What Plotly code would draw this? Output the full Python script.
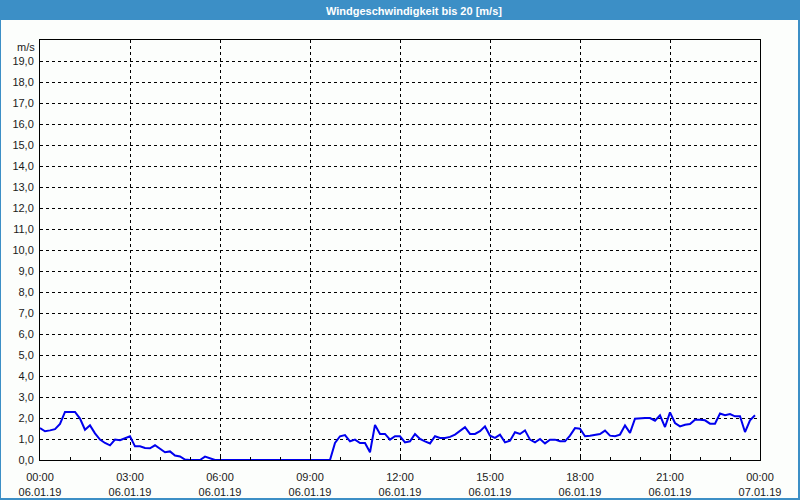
import pandas as pd
import plotly.graph_objects as go

title_text = "Windgeschwindigkeit bis 20 [m/s]"
unit_label = "m/s"

start_time = "2019-01-06 00:00"
end_time = "2019-01-07 00:00"
sample_interval = "10min"

wind_speed = [
    1.52, 1.37, 1.41, 1.47, 1.72, 2.29, 2.29, 2.29, 1.97, 1.44, 1.65, 1.27,
    0.97, 0.81, 0.70, 0.97, 0.94, 1.02, 1.13, 0.65, 0.65, 0.57, 0.56, 0.70,
    0.52, 0.37, 0.41, 0.21, 0.17, 0.02, 0.00, 0.00, 0.00, 0.16, 0.08, 0.00,
    0.00, 0.00, 0.00, 0.00, 0.00, 0.00, 0.00, 0.00, 0.00, 0.00, 0.00, 0.00,
    0.00, 0.00, 0.00, 0.00, 0.00, 0.00, 0.00, 0.00, 0.00, 0.00, 0.00, 0.81,
    1.13, 1.19, 0.89, 0.97, 0.81, 0.81, 0.37, 1.67, 1.24, 1.24, 0.97, 1.13,
    1.13, 0.84, 0.89, 1.24, 1.00, 0.89, 0.79, 1.13, 1.05, 1.05, 1.10, 1.21,
    1.37, 1.56, 1.24, 1.24, 1.37, 1.60, 1.16, 1.05, 1.21, 0.84, 0.92, 1.32,
    1.24, 1.41, 0.97, 0.84, 1.00, 0.79, 0.97, 0.97, 0.89, 0.89, 1.16, 1.52,
    1.49, 1.13, 1.16, 1.21, 1.24, 1.40, 1.16, 1.13, 1.21, 1.65, 1.29, 1.97,
    2.00, 2.00, 2.00, 1.87, 2.13, 1.57, 2.27, 1.76, 1.60, 1.68, 1.71, 1.92,
    1.92, 1.89, 1.73, 1.73, 2.21, 2.13, 2.19, 2.08, 2.08, 1.33, 1.89, 2.13,
]

x_tick_times = [
    "2019-01-06 00:00", "2019-01-06 03:00", "2019-01-06 06:00",
    "2019-01-06 09:00", "2019-01-06 12:00", "2019-01-06 15:00",
    "2019-01-06 18:00", "2019-01-06 21:00", "2019-01-07 00:00",
]
x_tick_labels = [
    "00:00<br>06.01.19", "03:00<br>06.01.19", "06:00<br>06.01.19",
    "09:00<br>06.01.19", "12:00<br>06.01.19", "15:00<br>06.01.19",
    "18:00<br>06.01.19", "21:00<br>06.01.19", "00:00<br>07.01.19",
]
y_tick_values = list(range(0, 20))
y_tick_labels = [f"{v},0" for v in y_tick_values]

times = pd.date_range(start_time, periods=len(wind_speed), freq=sample_interval)

W, H = 800, 500
L, R, T, B = 40, 40, 40, 40
PW, PH = W - L - R, H - T - B


def px(xp):
    return (xp - L) / PW


def py(yp):
    return (H - B - yp) / PH


BLUE = "#3c8fc6"
TEXT = "#1a1a1a"
FONT = "Liberation Sans, Arial, sans-serif"

fig = go.Figure()
fig.add_trace(go.Scatter(
    x=times, y=wind_speed, mode="lines",
    line=dict(color="#0000ee", width=2), hoverinfo="skip",
))

fig.update_layout(
    width=W, height=H, autosize=False,
    margin=dict(l=L, r=R, t=T, b=B, pad=0, autoexpand=False),
    paper_bgcolor="#fcfefc", plot_bgcolor="#fcfefc",
    showlegend=False,
    font=dict(family=FONT, size=11, color=TEXT),
    xaxis=dict(
        type="date", range=[start_time, end_time],
        tickvals=x_tick_times, ticktext=x_tick_labels,
        showgrid=True, gridcolor="black", gridwidth=1, griddash="3px,3px",
        showline=True, linecolor="black", linewidth=1, mirror=True,
        ticks="inside", ticklen=3, tickcolor="black",
        minor=dict(dtick=3600000, ticks="inside", ticklen=3,
                   tickcolor="black", showgrid=False),
        ticklabelstandoff=7, zeroline=False, fixedrange=True,
        automargin=False,
    ),
    yaxis=dict(
        range=[0, 20], tickvals=y_tick_values, ticktext=y_tick_labels,
        showgrid=True, gridcolor="black", gridwidth=1, griddash="3px,3px",
        showline=True, linecolor="black", linewidth=1, mirror=True,
        ticks="", ticklabelstandoff=3, zeroline=False, fixedrange=True,
        automargin=False,
    ),
    shapes=[
        dict(type="rect", xref="paper", yref="paper", layer="above",
             x0=px(0), x1=px(W), y0=py(20), y1=py(0),
             fillcolor=BLUE, line=dict(width=0)),
        dict(type="rect", xref="paper", yref="paper", layer="above",
             x0=px(0), x1=px(1), y0=py(H), y1=py(20),
             fillcolor=BLUE, line=dict(width=0)),
        dict(type="rect", xref="paper", yref="paper", layer="above",
             x0=px(W - 2), x1=px(W), y0=py(H), y1=py(20),
             fillcolor=BLUE, line=dict(width=0)),
        dict(type="rect", xref="paper", yref="paper", layer="above",
             x0=px(0), x1=px(W), y0=py(H), y1=py(H - 2),
             fillcolor=BLUE, line=dict(width=0)),
    ],
    annotations=[
        dict(text="<b>" + title_text + "</b>", xref="paper", yref="paper",
             x=px(414), y=py(10.5), xanchor="center", yanchor="middle",
             showarrow=False, font=dict(family=FONT, size=11, color="white")),
        dict(text=unit_label, xref="paper", yref="paper",
             x=px(37), y=py(47), xanchor="right", yanchor="middle",
             showarrow=False, font=dict(family=FONT, size=11, color=TEXT)),
    ],
)

fig.write_html(
    "out.html",
    config={"displayModeBar": False, "staticPlot": True},
    post_script="document.body.style.margin='0';document.body.style.overflow='hidden';",
)
